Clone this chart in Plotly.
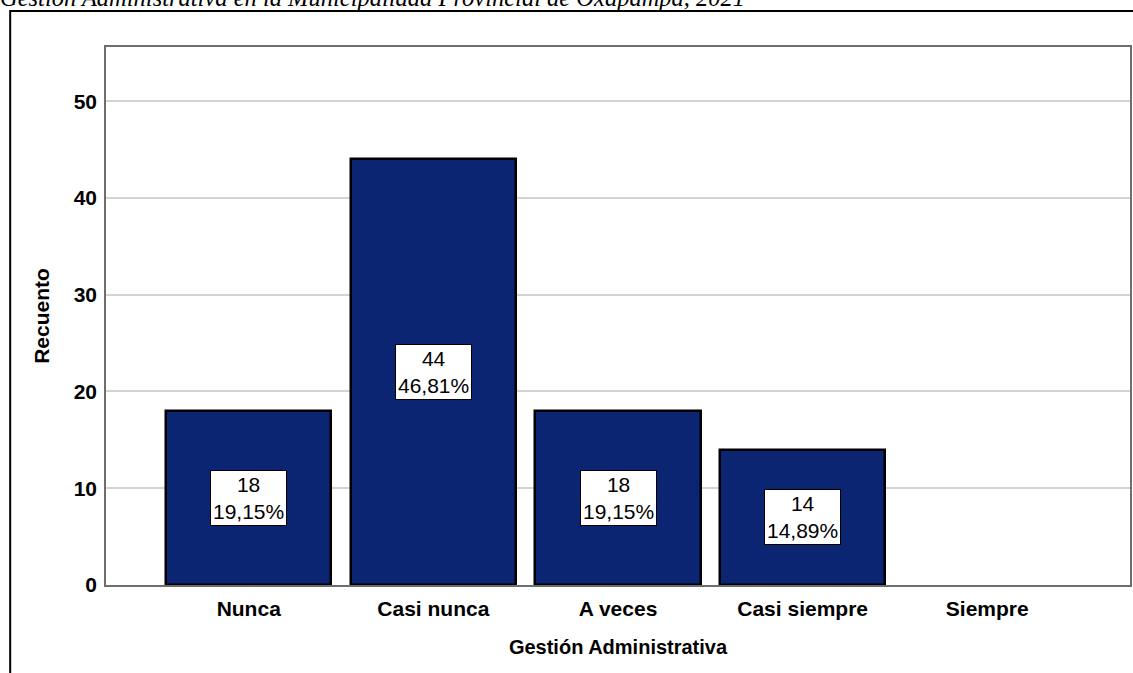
import plotly.graph_objects as go

categories = ["Nunca", "Casi nunca", "A veces", "Casi siempre", "Siempre"]
counts = [18, 44, 18, 14, 0]
y_ticks = [0, 10, 20, 30, 40, 50]
title_text = "Gestión Administrativa en la Municipalidad Provincial de Oxapampa, 2021"
x_title = "Gestión Administrativa"
y_title = "Recuento"

W, H = 1133, 673
L, R, T, B = 106, 1, 47, 88
PW, PH = W - L - R, H - T - B

def px_x(px):
    return (px - L) / PW

def px_y(py):
    return (H - B - py) / PH

total = sum(counts)
pcts = [100.0 * c / total for c in counts]

SANS = "Liberation Sans, Arial, sans-serif"
bar_color = "#0c2572"
fig = go.Figure()
fig.add_trace(go.Bar(
    x=list(range(len(categories))),
    y=counts,
    width=0.895,
    marker=dict(color=bar_color,
                line=dict(color="black", width=[2.5 if c > 0 else 0 for c in counts])),
    hoverinfo="skip",
))

annotations = []
for i, (c, p) in enumerate(zip(counts, pcts)):
    if c <= 0:
        continue
    annotations.append(dict(
        x=i, y=c / 2, xref="x", yref="y",
        text=f"{c}<br>{p:.2f}%".replace(".", ","),
        showarrow=False,
        font=dict(family=SANS, size=21, color="black"),
        bgcolor="white", bordercolor="black", borderwidth=1, borderpad=2,
        align="center",
    ))

annotations.append(dict(
    x=px_x(-2), y=px_y(13), xref="paper", yref="paper",
    xanchor="left", yanchor="bottom",
    text=f"<i>{title_text}</i>", showarrow=False,
    font=dict(family="Liberation Serif, Times New Roman, serif", size=24.5, color="black"),
))

fig.update_layout(
    width=W, height=H,
    margin=dict(l=L, r=R, t=T, b=B, pad=0),
    paper_bgcolor="white", plot_bgcolor="white",
    showlegend=False,
    bargap=0,
    annotations=annotations,
    shapes=[dict(type="rect", xref="paper", yref="paper",
                 x0=px_x(10), x1=px_x(1145), y0=px_y(690), y1=px_y(11),
                 line=dict(color="black", width=2), fillcolor="rgba(0,0,0,0)",
                 layer="below")],
    xaxis=dict(
        range=[-0.773, len(categories) - 1 + 0.773],
        tickmode="array", tickvals=list(range(len(categories))), ticktext=categories,
        showgrid=False, zeroline=False,
        showline=True, mirror=True, linecolor="#6e6e6e", linewidth=1.5,
        ticks="", ticklabelstandoff=4,
        tickfont=dict(family=SANS, size=21, color="black", weight="bold"),
        title=dict(text=x_title, standoff=21,
                   font=dict(family=SANS, size=20, color="black", weight="bold")),
    ),
    yaxis=dict(
        range=[0, 55.6],
        tickmode="array", tickvals=y_ticks,
        showgrid=True, gridcolor="#d4d4d4", gridwidth=1.5, zeroline=False,
        showline=True, mirror=True, linecolor="#6e6e6e", linewidth=1.5,
        ticks="", ticklabelstandoff=3,
        tickfont=dict(family=SANS, size=21, color="black", weight="bold"),
        title=dict(text=y_title, standoff=18,
                   font=dict(family=SANS, size=21, color="black", weight="bold")),
    ),
)

fig.write_html("out.html", config={"displayModeBar": False},
               post_script="document.body.style.margin='0';document.body.style.overflow='hidden';")
